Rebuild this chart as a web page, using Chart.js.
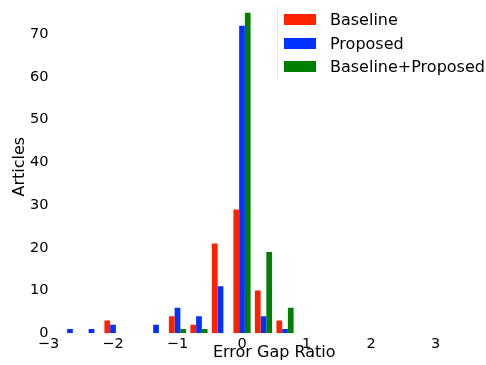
<!DOCTYPE html>
<html>
<head>
<meta charset="utf-8">
<script src="https://cdn.jsdelivr.net/npm/chart.js@4/dist/chart.umd.min.js"></script>
<style>
  html, body { margin: 0; padding: 0; background: #fff; overflow: hidden; width: 486px; height: 365px; }
  #wrap { position: relative; width: 486px; height: 365px; overflow: hidden; }
  canvas { position: absolute; left: 0; top: 0; }
  #legend { position: absolute; left: 277px; top: 7px; height: 73px; width: 220px;
            border-left: 1.3px solid #e4e4e4; font-family: "DejaVu Sans", sans-serif; font-size: 16px; color: #000; }
  .row { position: absolute; left: 6px; height: 20px; display: flex; align-items: center; white-space: nowrap; }
  .sw { width: 32px; height: 11px; margin-right: 14px; }
</style>
</head>
<body>
<div id="wrap">
  <canvas id="c" width="500" height="365"></canvas>
  <div id="legend"></div>
</div>
<script>
// Bin centers (Error Gap Ratio), width 1/3
const binCenters = [-2.667, -2.333, -2.0, -1.667, -1.333, -1.0, -0.667, -0.333, 0.0, 0.333, 0.667];
const baseline   = [0, 0, 3, 0, 0, 4, 2, 21, 29, 10, 3];
const proposed   = [1, 1, 2, 0, 2, 6, 4, 11, 72, 4, 1];
const combined   = [0, 0, 0, 0, 0, 1, 1, 0, 75, 19, 6];
const seriesNames = ['Baseline', 'Proposed', 'Baseline+Proposed'];
const seriesColors = ['#ff2200', '#0033ff', '#008000'];
const xTicks = [-3, -2, -1, 0, 1, 2, 3];
const yTicks = [0, 10, 20, 30, 40, 50, 60, 70];

function pts(vals) { return binCenters.map((x, i) => ({ x: x, y: vals[i] })); }

const FONT = "DejaVu Sans";
new Chart(document.getElementById('c'), {
  type: 'bar',
  data: {
    datasets: [baseline, proposed, combined].map((v, i) => ({
      label: seriesNames[i],
      data: pts(v),
      backgroundColor: seriesColors[i],
      borderWidth: 0,
      categoryPercentage: 0.8,
      barPercentage: 1.0
    }))
  },
  options: {
    responsive: false,
    animation: false,
    devicePixelRatio: 1,
    layout: { padding: 0 },
    plugins: { legend: { display: false }, tooltip: { enabled: false } },
    scales: {
      x: {
        type: 'linear',
        offset: false,
        min: -3, max: 4,
        grid: { display: false, drawTicks: false },
        border: { display: false },
        afterBuildTicks: s => { s.ticks = xTicks.map(v => ({ value: v })); },
        ticks: {
          padding: 2,
          color: '#000',
          font: { family: FONT, size: 14.5 },
          maxRotation: 0,
          autoSkip: false,
          callback: v => (v < 0 ? '\u2212' + Math.abs(v) : String(v))
        },
        title: { display: true, text: 'Error Gap Ratio', color: '#000',
                 font: { family: FONT, size: 16 }, padding: { top: 0, bottom: 3 } },
        afterFit: s => { s.height = 31.7; s.paddingLeft = 0; s.paddingRight = 0; }
      },
      y: {
        min: 0, max: 78,
        grid: { display: false, drawTicks: false },
        border: { display: false },
        afterBuildTicks: s => { s.ticks = yTicks.map(v => ({ value: v })); },
        ticks: { padding: 0, color: '#000', font: { family: FONT, size: 14.5 } },
        title: { display: true, text: 'Articles', color: '#000',
                 font: { family: FONT, size: 16 }, padding: { top: 10, bottom: 0 } },
        afterFit: s => { s.width = 48.5; s.paddingTop = 0; s.paddingBottom = 0; }
      }
    }
  }
});

// legend overlay
const leg = document.getElementById('legend');
const rowTops = [2.8, 26.2, 49.5];
seriesNames.forEach((n, i) => {
  const r = document.createElement('div');
  r.className = 'row';
  r.style.top = rowTops[i] + 'px';
  const sw = document.createElement('div');
  sw.className = 'sw';
  sw.style.background = seriesColors[i];
  const t = document.createElement('span');
  t.textContent = n;
  r.appendChild(sw); r.appendChild(t);
  leg.appendChild(r);
});
</script>
</body>
</html>
